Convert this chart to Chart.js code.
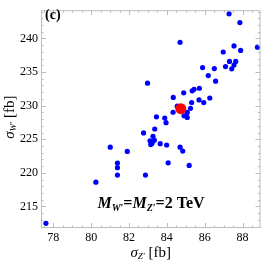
<!DOCTYPE html>
<html>
<head>
<meta charset="utf-8">
<script src="https://cdn.jsdelivr.net/npm/chart.js@4"></script>
<style>
  html, body { margin: 0; padding: 0; background: #fff; }
  #wrap { width: 266px; height: 266px; }
</style>
</head>
<body>
<div id="wrap"><canvas id="chart" width="266" height="266"></canvas></div>
<script>
/* scan points: sigma_Z' and sigma_W' in fb */
const sigmaZ = [
    87.29, 87.86, 84.70, 87.55, 88.79, 87.90, 86.98, 87.31, 87.64, 87.55,
    87.10, 87.43, 85.89, 86.51, 86.19, 86.58, 82.98, 85.72, 85.44, 85.34,
    84.89, 84.34, 86.27, 85.70, 85.95, 85.31, 84.55, 85.25, 85.08, 84.33,
    84.91, 85.08, 83.45, 83.89, 83.96, 83.36, 82.77, 83.27, 83.34, 83.11,
    83.22, 83.15, 83.65, 83.99, 84.70, 84.84, 84.07, 85.18, 82.87, 81.01,
    81.91, 81.39, 81.39, 81.39, 80.25, 77.61
];
const sigmaW = [
    243.66, 242.36, 239.42, 238.89, 238.70, 238.22, 237.98, 236.58, 236.58, 236.05,
    235.81, 235.48, 235.66, 235.52, 234.47, 233.64, 233.35, 232.59, 232.44, 232.20,
    231.91, 231.23, 231.14, 230.85, 230.46, 230.46, 229.93, 229.60, 229.00, 229.02,
    228.48, 228.25, 228.34, 228.15, 227.47, 226.53, 225.94, 225.45, 224.87, 224.78,
    224.39, 224.21, 224.35, 224.15, 223.82, 223.24, 221.50, 221.11, 219.67, 223.82,
    223.19, 221.46, 220.78, 219.67, 218.61, 212.50
];

/* benchmark point */
const benchZ = [84.74];
const benchW = [229.55];

const xTicks = [78, 80, 82, 84, 86, 88];
const yTicks = [215, 220, 225, 230, 235, 240];

const serif = "'Liberation Serif', 'DejaVu Serif', serif";
const frameColor = "#bdbdbd";

function toPoints(xs, ys) {
    return xs.map((x, i) => ({ x: x, y: ys[i] }));
}

/* draw a line of text made of parts (with subscripts) */
function drawParts(ctx, parts, cx, cy, rotate) {
    ctx.save();
    ctx.translate(cx, cy);
    if (rotate) ctx.rotate(-Math.PI / 2);
    let total = 0;
    parts.forEach(p => {
        ctx.font = p.font;
        p.w = ctx.measureText(p.text).width;
        total += p.w;
    });
    let x = -total / 2;
    ctx.fillStyle = "#000";
    ctx.textBaseline = "middle";
    ctx.textAlign = "left";
    parts.forEach(p => {
        ctx.font = p.font;
        ctx.fillText(p.text, x, p.dy || 0);
        x += p.w;
    });
    ctx.restore();
}

const framePlugin = {
    id: "frame",
    afterDatasetsDraw(chart) {
        const { ctx, chartArea: a, scales } = chart;
        const xs = scales.x, ys = scales.y;
        ctx.save();
        ctx.strokeStyle = frameColor;
        ctx.lineWidth = 1;
        ctx.strokeRect(a.left + 0.5, a.top + 0.5, a.right - a.left - 1, a.bottom - a.top - 1);

        ctx.beginPath();
        /* x ticks, minor every 0.5 */
        for (let v = Math.ceil(xs.min * 2) / 2; v <= xs.max; v += 0.5) {
            const px = Math.round(xs.getPixelForValue(v)) + 0.5;
            const len = (Math.abs(v % 2) < 1e-6) ? 5 : 2.5;
            ctx.moveTo(px, a.bottom); ctx.lineTo(px, a.bottom - len);
            ctx.moveTo(px, a.top); ctx.lineTo(px, a.top + len);
        }
        /* y ticks, minor every 1 */
        for (let v = Math.ceil(ys.min); v <= ys.max; v += 1) {
            const py = Math.round(ys.getPixelForValue(v)) + 0.5;
            const len = (v % 5 === 0) ? 5 : 2.5;
            ctx.moveTo(a.left, py); ctx.lineTo(a.left + len, py);
            ctx.moveTo(a.right, py); ctx.lineTo(a.right - len, py);
        }
        ctx.stroke();
        ctx.restore();
    },
    afterDraw(chart) {
        const { ctx, chartArea: a } = chart;
        const cx = (a.left + a.right) / 2;
        const cy = (a.top + a.bottom) / 2;

        /* axis titles */
        drawParts(ctx, [
            { text: "σ", font: "italic 15px " + serif },
            { text: "Z′", font: "italic 9px " + serif, dy: 4 },
            { text: " [fb]", font: "15px " + serif }
        ], cx, 253, false);
        drawParts(ctx, [
            { text: "σ", font: "italic 15px " + serif },
            { text: "W′", font: "italic 9px " + serif, dy: 4 },
            { text: " [fb]", font: "15px " + serif }
        ], 10, cy - 2, true);

        /* panel label */
        ctx.save();
        ctx.font = "bold 14px " + serif;
        ctx.fillStyle = "#000";
        ctx.textBaseline = "middle";
        ctx.fillText("(c)", a.left + 4, 15);
        ctx.restore();

        /* mass annotation */
        drawParts(ctx, [
            { text: "M", font: "italic bold 16px " + serif },
            { text: "W′", font: "italic bold 10px " + serif, dy: 4 },
            { text: "=", font: "bold 16px " + serif },
            { text: "M", font: "italic bold 16px " + serif },
            { text: "Z′", font: "italic bold 10px " + serif, dy: 4 },
            { text: "=2 TeV", font: "bold 16px " + serif }
        ], 151, 204, false);
    }
};

new Chart(document.getElementById("chart"), {
    type: "scatter",
    data: {
        datasets: [{
            label: "benchmark",
            data: toPoints(benchZ, benchW),
            pointRadius: 5.5,
            pointBackgroundColor: "#ff0000",
            pointBorderWidth: 0,
            order: 0
        }, {
            label: "scan",
            data: toPoints(sigmaZ, sigmaW),
            pointRadius: 2.6,
            pointBackgroundColor: "#0000ff",
            pointBorderWidth: 0,
            order: 1
        }]
    },
    options: {
        responsive: false,
        animation: false,
        layout: { padding: { top: 4, right: 1, left: 0, bottom: 0 } },
        plugins: {
            legend: { display: false },
            tooltip: { enabled: false }
        },
        scales: {
            x: {
                type: "linear",
                min: 77.35,
                max: 88.95,
                afterFit: (s) => { s.height = 38; },
                afterBuildTicks: (s) => { s.ticks = xTicks.map(v => ({ value: v })); },
                grid: { display: false, drawTicks: false },
                border: { display: false },
                ticks: {
                    padding: 3,
                    color: "#000",
                    font: { family: serif, size: 12 }
                }
            },
            y: {
                type: "linear",
                min: 211.8,
                max: 244.2,
                afterFit: (s) => { s.width = 41; },
                afterBuildTicks: (s) => { s.ticks = yTicks.map(v => ({ value: v })); },
                grid: { display: false, drawTicks: false },
                border: { display: false },
                ticks: {
                    padding: 3,
                    color: "#000",
                    font: { family: serif, size: 12 }
                }
            }
        }
    },
    plugins: [framePlugin]
});
</script>
</body>
</html>
